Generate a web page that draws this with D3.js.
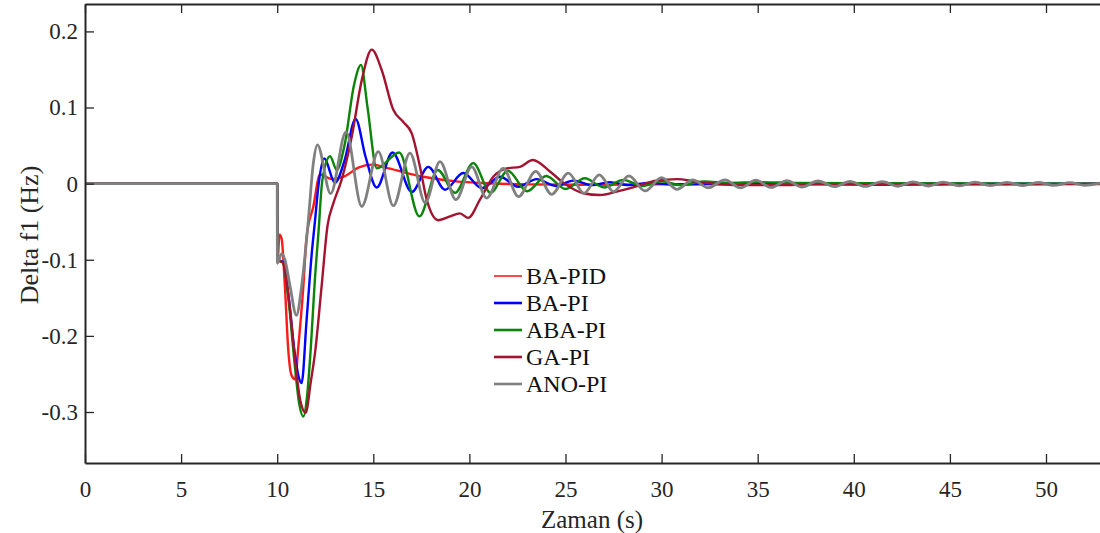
<!DOCTYPE html>
<html>
<head>
<meta charset="utf-8">
<script src="https://cdn.jsdelivr.net/npm/d3@7"></script>
<style>
  body { margin: 0; background: #fff; }
  svg { display: block; font-family: 'Liberation Serif', 'Times New Roman', serif; }
</style>
</head>
<body>
<div id="chart"></div>
<script>
// tick values / labels
const xTicks = [0, 5, 10, 15, 20, 25, 30, 35, 40, 45, 50];
const yTicks = [-0.3, -0.2, -0.1, 0, 0.1, 0.2];
const yTickLabels = ['-0.3', '-0.2', '-0.1', '0', '0.1', '0.2'];

const seriesNames = ['BA-PID', 'BA-PI', 'ABA-PI', 'GA-PI', 'ANO-PI'];
const seriesColors = ['#ff1a1a', '#0000ff', '#0a850a', '#a2142f', '#808080'];

// [time (s), delta f1 (Hz)]
const baPID = [[0, 0], [10, 0], [10.01, -0.105], [10.12, -0.067], [10.23, -0.072], [10.4, -0.135],
  [10.58, -0.22], [10.75, -0.252], [10.93, -0.257], [11.1, -0.214], [11.36, -0.135], [11.53, -0.07],
  [11.88, -0.03], [12.23, 0.012], [12.83, 0.006], [13.53, 0.01], [14.22, 0.021], [14.92, 0.025],
  [15.8, 0.02], [17.6, 0.009], [19.3, 0.003], [21.0, 0.0005], [23, -0.001], [26, -0.0015],
  [30, -0.001], [35, -0.0008], [40, -0.0006], [45, -0.0005], [53, -0.0003]];

const baPI = [[0, 0], [10, 0], [10.01, -0.1], [10.3, -0.103], [10.6, -0.15], [10.9, -0.22],
  [11.1, -0.252], [11.27, -0.262], [11.53, -0.179], [11.8, -0.091], [11.97, -0.048], [12.14, -0.004],
  [12.45, 0.033], [13.0, 0.001], [13.5, 0.03], [14.08, 0.085], [14.6, 0.035], [15.18, -0.005],
  [16.0, 0.041], [17.0, -0.011], [17.86, 0.022], [18.73, -0.008], [19.68, 0.014], [20.64, -0.006],
  [21.6, 0.009], [22.54, -0.004], [23.5, 0.006], [24.5, -0.003], [25.4, 0.004], [26.4, -0.002],
  [27.3, 0.002], [28.3, -0.002], [29.3, 0.001], [30.5, -0.001], [33, 0], [53, 0]];

const abaPI = [[0, 0], [10, 0], [10.01, -0.1], [10.3, -0.104], [10.6, -0.155], [10.9, -0.235],
  [11.15, -0.29], [11.36, -0.306], [11.55, -0.28], [11.75, -0.215], [11.95, -0.13], [12.15, -0.063],
  [12.35, 0.005], [12.75, 0.036], [13.1, 0.018], [13.5, 0.05], [14.0, 0.13], [14.36, 0.156],
  [14.7, 0.1], [15.18, 0.02], [16.35, 0.041], [17.4, -0.043], [18.35, 0.018], [19.25, -0.012],
  [20.2, 0.027], [21.1, -0.012], [22.0, 0.017], [23.0, -0.01], [24.0, 0.01], [25.0, -0.007],
  [26.0, 0.007], [27.0, -0.005], [28.0, 0.005], [29.0, -0.003], [30.0, 0.003], [31.0, -0.002],
  [32.2, 0.003], [33.5, 0.001], [35, 0.002], [37, 0.001], [40, 0.0005], [53, 0]];

const gaPI = [[0, 0], [10, 0], [10.01, -0.1], [10.3, -0.104], [10.6, -0.15], [10.9, -0.225],
  [11.2, -0.285], [11.48, -0.301], [11.75, -0.26], [11.97, -0.222], [12.31, -0.135], [12.62, -0.055],
  [12.92, -0.026], [13.35, 0.005], [13.88, 0.062], [14.4, 0.136], [14.92, 0.176], [15.44, 0.149],
  [16.04, 0.097], [16.56, 0.081], [17.0, 0.066], [17.43, 0.022], [17.78, -0.021], [18.38, -0.048],
  [19.0, -0.043], [19.5, -0.039], [19.94, -0.045], [20.55, -0.021], [21.24, 0.009], [21.94, 0.02],
  [22.63, 0.022], [23.3, 0.031], [24.19, 0.016], [24.9, 0.001], [25.93, -0.0126], [26.8, -0.015],
  [27.66, -0.0105], [28.9, -0.002], [29.7, 0.004], [30.8, 0.006], [31.8, 0.0026], [32.9, -0.0005],
  [34, -0.002], [36, -0.002], [38, -0.001], [41, -0.0015], [45, -0.001], [49, -0.0008], [53, -0.0005]];

const anoPI = [[0, 0], [10, 0], [10.01, -0.104], [10.23, -0.092], [10.4, -0.1], [10.67, -0.135],
  [11.0, -0.173], [11.27, -0.135], [11.62, -0.048], [11.88, 0.027], [12.09, 0.051], [12.78, -0.013],
  [13.58, 0.068], [14.4, -0.03], [15.26, 0.042], [16.04, -0.029], [16.91, 0.04], [17.7, -0.025],
  [18.47, 0.029], [19.3, -0.021], [20.12, 0.022], [20.9, -0.019], [21.76, 0.02], [22.55, -0.017],
  [23.45, 0.016], [24.28, -0.014], [25.15, 0.0137], [25.96, -0.0126], [26.76, 0.0114], [27.5, -0.0105],
  [28.3, 0.0101], [29.14, -0.0096], [30.0, 0.0079], [30.8, -0.0074], [31.62, 0.0049], [32.43, -0.0053],
  [33.3, 0.005], [34.1, -0.0055], [34.91, 0.0045], [35.7, -0.005], [36.52, 0.004], [37.3, -0.0045],
  [38.14, 0.0035], [39.0, -0.004], [39.8, 0.003], [40.6, -0.0037], [41.47, 0.0027], [42.3, -0.0034],
  [43.08, 0.0024], [43.9, -0.0031], [44.64, 0.0021], [45.5, -0.0029], [46.31, 0.0019], [47.1, -0.0027],
  [47.97, 0.0017], [48.8, -0.0025], [49.58, 0.0015], [50.4, -0.0023], [51.25, 0.0013], [52.0, -0.0022],
  [52.9, 0.0012]];

const series = [baPID, baPI, abaPI, gaPI, anoPI];

const W = 1100, H = 533;
const margin = { top: 4, left: 85, bottom: 70 };
const axisColor = '#262626';

const svg = d3.select('#chart').append('svg').attr('width', W).attr('height', H);

// axis runs past the right edge of the picture (cropped figure)
const x = d3.scaleLinear().domain([0, 60]).range([margin.left, margin.left + 19.22 * 60]);
const y = d3.scaleLinear().domain([-0.367, 0.236]).range([H - margin.bottom, margin.top]);

const line = d3.line()
  .x((d) => x(d[0]))
  .y((d) => y(d[1]))
  .curve(d3.curveMonotoneX);

const plot = svg.append('g');
plot.selectAll('path')
  .data(series)
  .join('path')
  .attr('fill', 'none')
  .attr('stroke', (d, i) => seriesColors[i])
  .attr('stroke-width', (d, i) => (i === 4 ? 2.8 : 2.4))
  .attr('stroke-linejoin', 'round')
  .attr('d', line);

// axes, ticks pointing inward
svg.append('g')
  .attr('transform', `translate(0,${H - margin.bottom})`)
  .call(d3.axisBottom(x).tickValues(xTicks).tickSizeInner(-9).tickSizeOuter(0).tickPadding(18));

svg.append('g')
  .attr('transform', `translate(0,${margin.top})`)
  .call(d3.axisTop(x).tickValues(xTicks).tickSizeInner(-9).tickSizeOuter(0).tickFormat(''));

svg.append('g')
  .attr('transform', `translate(${margin.left},0)`)
  .call(d3.axisLeft(y).tickValues(yTicks).tickSizeInner(-9).tickSizeOuter(0).tickPadding(7)
    .tickFormat((d, i) => yTickLabels[i]));

svg.selectAll('.domain').attr('stroke', axisColor).attr('stroke-width', 2);
svg.selectAll('.tick line').attr('stroke', axisColor).attr('stroke-width', 1.3);
svg.selectAll('.tick text')
  .attr('fill', axisColor)
  .style('font-family', "'Liberation Serif', serif")
  .style('font-size', '23px');

svg.append('text')
  .attr('x', 592)
  .attr('y', 528)
  .attr('text-anchor', 'middle')
  .attr('fill', axisColor)
  .style('font-size', '25px')
  .text('Zaman (s)');

svg.append('text')
  .attr('transform', 'translate(38,235) rotate(-90)')
  .attr('text-anchor', 'middle')
  .attr('fill', axisColor)
  .style('font-size', '26px')
  .text('Delta f1 (Hz)');

// legend
const legend = svg.append('g').attr('transform', 'translate(494,276)');
const row = legend.selectAll('g')
  .data(seriesNames)
  .join('g')
  .attr('transform', (d, i) => `translate(0,${i * 27})`);

row.append('line')
  .attr('x1', 0).attr('x2', 28)
  .attr('stroke', (d, i) => seriesColors[i])
  .attr('stroke-width', (d, i) => (i === 0 ? 1.6 : 2.6));

row.append('text')
  .attr('x', 32)
  .attr('dy', '0.35em')
  .attr('fill', '#111')
  .style('font-size', '24px')
  .text((d) => d);
</script>
</body>
</html>
